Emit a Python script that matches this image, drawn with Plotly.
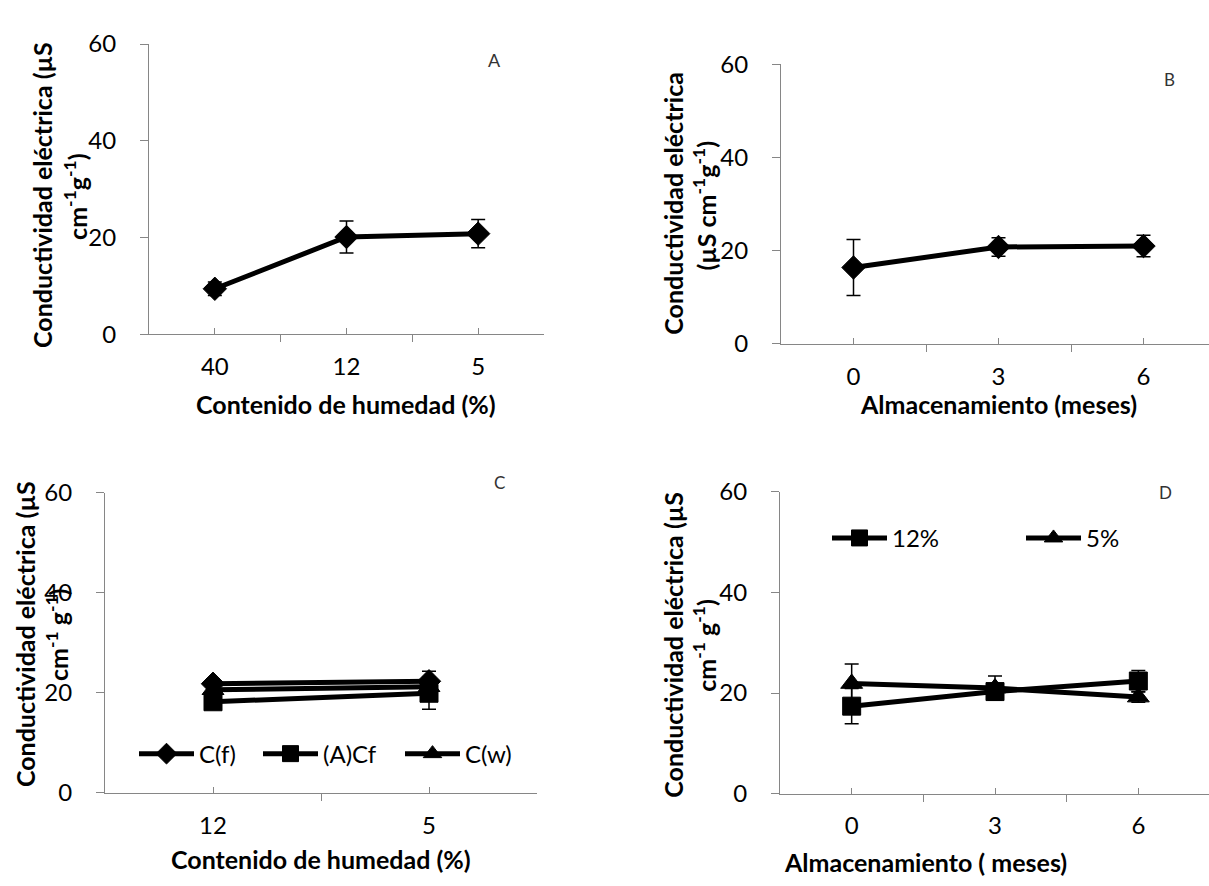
import plotly.graph_objects as go

W, H = 1209, 886
FONT = "Lato"
GRAY = "#868686"

# ---------------- data ----------------
# Panel A: conductividad vs contenido de humedad
a_cats = ["40", "12", "5"]
a_vals = [9.4, 20.1, 20.8]
a_err = [1.4, 3.3, 2.9]

# Panel B: conductividad vs almacenamiento
b_cats = ["0", "3", "6"]
b_vals = [16.4, 20.8, 21.0]
b_err = [6.0, 2.0, 2.3]

# Panel C: three treatments vs contenido de humedad
c_cats = ["12", "5"]
c_names = ["C(f)", "(A)Cf", "C(w)"]
c_cf = [21.8, 22.3]
c_cf_err = [1.0, 2.0]
c_acf = [18.2, 19.9]
c_acf_err = [1.0, 3.2]
c_cw = [20.6, 21.2]
c_cw_err = [1.0, 1.5]

# Panel D: two moisture levels vs almacenamiento
d_cats = ["0", "3", "6"]
d_names = ["12%", "5%"]
d_12 = [17.4, 20.3, 22.4]
d_12_err = [3.5, 1.5, 2.1]
d_5 = [21.9, 21.0, 19.2]
d_5_err = [3.9, 2.4, 1.0]

y_ticks = [0, 20, 40, 60]

# ---------------- layout helpers ----------------
def xdom(x0, x1):
    return [x0 / W, min(x1 / W, 1.0)]

def ydom(top, bottom):
    return [1 - bottom / H, 1 - top / H]

fig = go.Figure()

panels = {
    "A": dict(x0=149, x1=544, top=29, bot=329, cats=a_cats),
    "B": dict(x0=781, x1=1216, top=50, bot=339, cats=b_cats),
    "C": dict(x0=105, x1=537, top=493, bot=803, cats=c_cats),
    "D": dict(x0=780, x1=1210, top=492, bot=804, cats=d_cats),
}
axis_ids = {"A": ("x", "y"), "B": ("x2", "y2"), "C": ("x3", "y3"), "D": ("x4", "y4")}

TICKFONT = dict(family=FONT, size=24, color="black")

for key, p in panels.items():
    n = len(p["cats"])
    band = (p["x1"] - p["x0"]) / n
    x1_vis = min(p["x1"], W)
    hi = -0.5 + (x1_vis - p["x0"]) / band
    xa, ya = axis_ids[key]
    xname = "xaxis" + xa[1:]
    yname = "yaxis" + ya[1:]
    fig.layout[xname] = dict(
        domain=xdom(p["x0"], x1_vis), range=[-0.5, hi], anchor=ya,
        tickmode="array", tickvals=list(range(n)), ticktext=p["cats"],
        ticks="inside", ticklen=6, tickwidth=1, tickcolor=GRAY,
        minor=dict(tickmode="array", tickvals=[i - 0.5 for i in range(n + 1)],
                   ticks="outside", ticklen=7, tickwidth=1, tickcolor=GRAY),
        showline=True, linecolor=GRAY, linewidth=1,
        showgrid=False, zeroline=False, fixedrange=True,
        tickfont=TICKFONT, ticklabelstandoff=11,
    )
    fig.layout[yname] = dict(
        domain=ydom(p["top"], p["bot"]), range=[0, 60], anchor=xa,
        tickmode="array", tickvals=y_ticks,
        ticks="outside", ticklen=8, tickwidth=1, tickcolor=GRAY,
        showline=True, linecolor=GRAY, linewidth=1,
        showgrid=False, zeroline=False, fixedrange=True,
        tickfont=TICKFONT, ticklabelstandoff=19,
    )

def add_series(xa, ya, cats, vals, errs, symbol, size, name=None, legend=None):
    fig.add_trace(go.Scatter(
        x=list(range(len(cats))), y=vals, xaxis=xa, yaxis=ya,
        mode="lines+markers", name=name,
        line=dict(color="black", width=5),
        marker=dict(symbol=symbol, size=size, color="black",
                    line=dict(color="black", width=1)),
        error_y=dict(type="data", array=errs, visible=True,
                     color="black", thickness=1.5, width=7),
        showlegend=legend is not None,
        legend=legend if legend else "legend",
    ))

add_series("x", "y", a_cats, a_vals, a_err, "diamond", 18)
add_series("x2", "y2", b_cats, b_vals, b_err, "diamond", 18)
add_series("x3", "y3", c_cats, c_cf, c_cf_err, "diamond", 18, c_names[0], "legend")
add_series("x3", "y3", c_cats, c_acf, c_acf_err, "square", 18, c_names[1], "legend2")
add_series("x3", "y3", c_cats, c_cw, c_cw_err, "triangle-up", 19, c_names[2], "legend3")
add_series("x4", "y4", d_cats, d_12, d_12_err, "square", 18, d_names[0], "legend4")
add_series("x4", "y4", d_cats, d_5, d_5_err, "triangle-up", 19, d_names[1], "legend5")

def leg(xpx, ypx):
    return dict(x=xpx / W, y=1 - ypx / H, xanchor="left", yanchor="middle",
                orientation="h", bgcolor="rgba(0,0,0,0)", borderwidth=0,
                font=dict(family=FONT, size=24, color="black"), itemwidth=55)

fig.update_layout(
    legend=leg(134, 763), legend2=leg(258, 763), legend3=leg(400, 763),
    legend4=leg(827, 540), legend5=leg(1021, 540),
)

ann = []
def text(xpx, ypx, s, size=20, bold=False, angle=0, color="black"):
    ann.append(dict(x=xpx / W, y=1 - ypx / H, xref="paper", yref="paper",
                    text=("<b>%s</b>" % s) if bold else s, showarrow=False,
                    xanchor="center", yanchor="middle", textangle=angle,
                    font=dict(family=FONT, size=size, color=color)))

# panel letters
text(494, 46, "A", 18, color="#333")
text(1169, 66, "B", 17, color="#333")
text(499, 482, "C", 17, color="#333")
text(1165, 493, "D", 17, color="#333")

TS = 25
# x titles
text(346, 401, "Contenido de humedad (%)", TS, True)
text(998, 401, "Almacenamiento (meses)", TS, True)
text(321, 872, "Contenido de humedad (%)", TS, True)
text(925, 875, "Almacenamiento ( meses)", TS, True)

sup = "cm<sup>-1</sup>g<sup>-1</sup>)"
sup2 = "cm<sup>-1</sup> g<sup>-1</sup>)"
# y titles
text(42, 185, "Conductividad eléctrica (µS", TS, True, -90)
text(76, 187, sup, TS, True, -90)
text(673, 194, "Conductividad eléctrica", TS, True, -90)
text(705, 196, "(µS " + sup, TS, True, -90)
text(25, 639, "Conductividad eléctrica (µS", TS, True, -90)
text(57, 640, sup2, TS, True, -90)
text(673, 650, "Conductividad eléctrica (µS", TS, True, -90)
text(705, 650, sup2, TS, True, -90)

fig.update_layout(
    width=W, height=H, margin=dict(l=0, r=0, t=0, b=0),
    paper_bgcolor="white", plot_bgcolor="white",
    annotations=ann, font=dict(family=FONT),
)

fig.write_html("out.html", config={"displayModeBar": False},
               post_script="document.body.style.margin='0';document.body.style.overflow='hidden';")
